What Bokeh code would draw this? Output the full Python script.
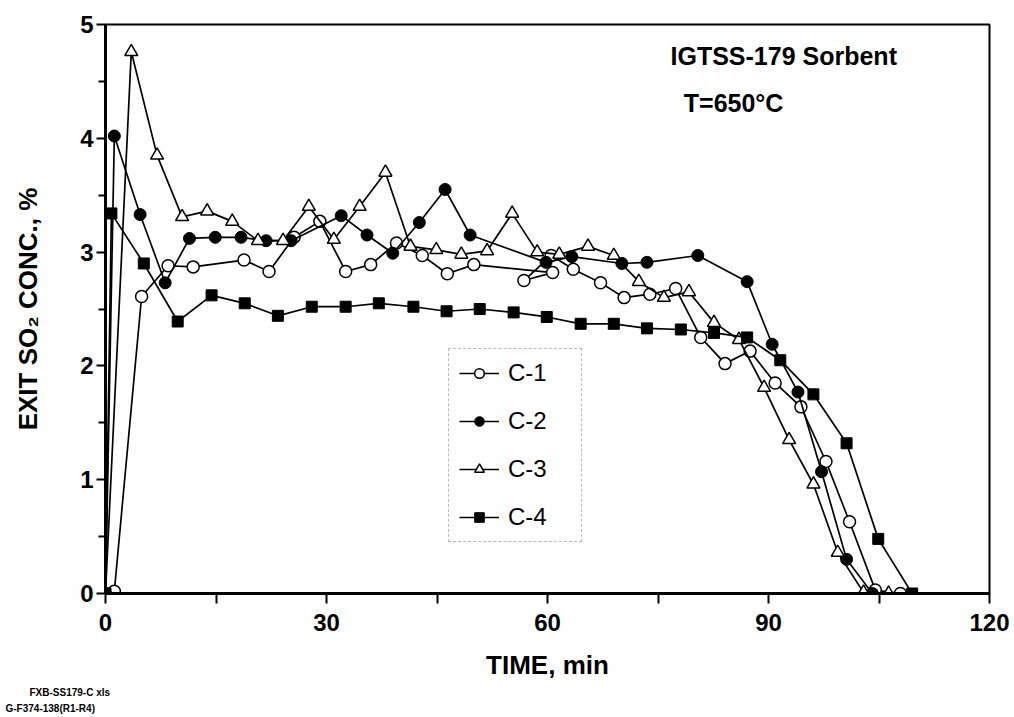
from bokeh.plotting import figure
from bokeh.models import Range1d, FixedTicker, Label, Title
from bokeh.embed import file_html
from bokeh.resources import INLINE

# ---- data ----
t1 = [0, 1.2, 4.9, 8.5, 11.9, 18.8, 22.2, 25.6, 29.1, 32.6, 36.0, 39.5, 43.0, 46.4, 50.0,
      60.7, 56.8, 60.5, 63.5, 67.2, 70.4, 73.9, 77.4, 80.8, 84.1, 87.5, 90.9, 94.4, 97.8,
      101.0, 104.5, 107.9]
c1 = [0, 0.02, 2.61, 2.88, 2.87, 2.93, 2.83, 3.13, 3.27, 2.83, 2.89, 3.08, 2.97, 2.81, 2.89,
      2.82, 2.75, 2.97, 2.85, 2.73, 2.60, 2.63, 2.68, 2.25, 2.02, 2.13, 1.85, 1.64, 1.16,
      0.63, 0.03, 0.0]

t2 = [0, 1.2, 4.7, 8.1, 11.4, 14.9, 18.4, 21.8, 25.2, 32.0, 35.5, 39.0, 42.6, 46.1, 49.5,
      59.8, 63.3, 70.1, 73.5, 80.4, 87.1, 90.5, 94.0, 97.2, 100.6, 104.1]
c2 = [0, 4.02, 3.33, 2.73, 3.12, 3.13, 3.13, 3.10, 3.10, 3.32, 3.15, 2.99, 3.26, 3.55, 3.15,
      2.91, 2.96, 2.90, 2.91, 2.97, 2.74, 2.19, 1.77, 1.07, 0.30, 0.0]

t3 = [0, 3.5, 7.0, 10.4, 13.8, 17.2, 20.7, 24.1, 27.6, 31.0, 34.5, 38.0, 41.4, 44.9, 48.3,
      51.8, 55.2, 58.6, 61.6, 65.5, 69.0, 72.4, 75.8, 79.2, 82.6, 86.0, 89.4, 92.8, 96.1,
      99.4, 102.9, 106.3]
c3 = [0, 4.76, 3.85, 3.31, 3.36, 3.27, 3.10, 3.10, 3.40, 3.11, 3.40, 3.70, 3.05, 3.02, 2.98,
      3.01, 3.34, 3.00, 2.98, 3.05, 2.97, 2.74, 2.60, 2.65, 2.38, 2.23, 1.81, 1.35, 0.96,
      0.36, 0.01, 0.0]

t4 = [0, 0.8, 5.2, 9.8, 14.4, 18.9, 23.4, 28.0, 32.6, 37.1, 41.8, 46.3, 50.8, 55.4, 59.9,
      64.5, 69.0, 73.5, 78.1, 82.6, 87.1, 91.6, 96.1, 100.6, 104.9, 109.5]
c4 = [0, 3.34, 2.90, 2.39, 2.62, 2.55, 2.44, 2.52, 2.52, 2.55, 2.52, 2.48, 2.50, 2.47, 2.43,
      2.37, 2.37, 2.33, 2.32, 2.29, 2.25, 2.05, 1.75, 1.32, 0.48, 0.0]

series_names = ["C-1", "C-2", "C-3", "C-4"]
x_ticks = [0, 30, 60, 90, 120]
x_minor = [15, 45, 75, 105]
y_ticks = [0, 1, 2, 3, 4, 5]
y_minor = [0.5, 1.5, 2.5, 3.5, 4.5]

FONT = "Liberation Sans"

p = figure(width=1014, height=717, output_backend="svg", toolbar_location=None,
           x_range=Range1d(0, 120), y_range=Range1d(0, 5),
           min_border_left=105, min_border_right=25, min_border_top=24, min_border_bottom=124)
p.background_fill_color = "white"
p.border_fill_color = "white"
p.xgrid.visible = False
p.ygrid.visible = False
p.outline_line_color = "black"
p.outline_line_width = 2

# axes
p.xaxis.ticker = FixedTicker(ticks=x_ticks, minor_ticks=x_minor)
p.yaxis.ticker = FixedTicker(ticks=y_ticks, minor_ticks=y_minor)
for ax in (p.xaxis, p.yaxis):
    ax.axis_line_width = 3
    ax.axis_line_color = "black"
    ax.major_tick_line_width = 2
    ax.minor_tick_line_width = 2
    ax.major_tick_in = 0
    ax.minor_tick_in = 0
    ax.major_label_text_font = FONT
    ax.major_label_text_font_style = "bold"
    ax.major_label_text_font_size = "24px"
    ax.major_label_text_color = "black"
    ax.axis_label_text_font = FONT
    ax.axis_label_text_font_style = "bold"
    ax.axis_label_text_font_size = "26px"
    ax.axis_label_text_color = "black"

p.xaxis.major_tick_out = 10
p.xaxis.minor_tick_out = 10
p.xaxis.major_label_standoff = 10
p.xaxis.axis_label = "TIME, min"
p.xaxis.axis_label_standoff = 16

p.yaxis.major_tick_out = 9
p.yaxis.minor_tick_out = 7
p.yaxis.major_label_standoff = 3
p.yaxis.axis_label = "EXIT SO\u2082 CONC., %"
p.yaxis.axis_label_standoff = 34

# series
lw = 1.7
p.line(t1, c1, line_color="black", line_width=lw, legend_label=series_names[0])
p.scatter(t1, c1, marker="circle", size=12, fill_color="white", line_color="black",
          line_width=1.5, legend_label=series_names[0])
p.line(t2, c2, line_color="black", line_width=lw, legend_label=series_names[1])
p.scatter(t2, c2, marker="circle", size=12, fill_color="black", line_color="black",
          legend_label=series_names[1])
p.line(t3, c3, line_color="black", line_width=lw, legend_label=series_names[2])
p.scatter(t3, c3, marker="triangle", size=13, fill_color="white", line_color="black",
          line_width=1.5, legend_label=series_names[2])
p.line(t4, c4, line_color="black", line_width=lw, legend_label=series_names[3])
p.scatter(t4, c4, marker="square", size=11, fill_color="black", line_color="black",
          legend_label=series_names[3])

lg = p.legend[0]
lg.location = (343, 51)
lg.glyph_width = 40
lg.glyph_height = 24
lg.label_standoff = 9
lg.spacing = 20
lg.padding = 10
lg.label_width = 63
lg.label_text_font = FONT
lg.label_text_font_size = "24px"
lg.label_text_color = "black"
lg.border_line_color = "#777777"
lg.border_line_dash = "5 3"
lg.border_line_width = 1
lg.background_fill_color = "white"
lg.background_fill_alpha = 1.0

# annotations
p.add_layout(Label(x=76.7, y=4.72, text="IGTSS-179 Sorbent", text_font=FONT,
                   text_font_style="bold", text_font_size="25px", text_color="black",
                   text_baseline="alphabetic"))
p.add_layout(Label(x=78.5, y=4.31, text="T=650\u00b0C", text_font=FONT,
                   text_font_style="bold", text_font_size="25px", text_color="black",
                   text_baseline="alphabetic"))

# footnotes below the axis
p.add_layout(Title(text="FXB-SS179-C xls", align="left", offset=-76, standoff=5,
                   text_font=FONT, text_font_style="bold", text_font_size="10px",
                   text_color="black"), "below")
p.add_layout(Title(text="G-F374-138(R1-R4)", align="left", offset=-100, standoff=0,
                   text_font=FONT, text_font_style="bold", text_font_size="10px",
                   text_color="black"), "below")

open("out.html", "w").write(file_html(p, INLINE))
